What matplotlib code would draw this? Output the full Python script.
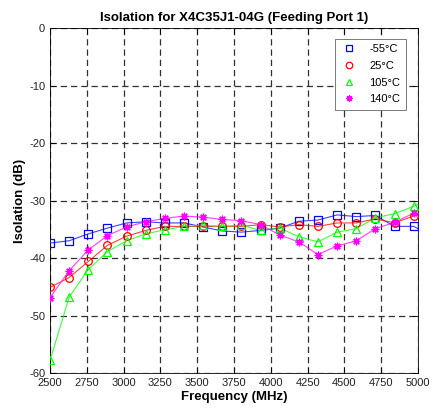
import numpy as np
import matplotlib
matplotlib.use("Agg")
import matplotlib.pyplot as plt

plt.rcParams['font.family'] = ['Liberation Sans', 'DejaVu Sans']
plt.rcParams['axes.unicode_minus'] = False

# Marker frequencies (MHz) plus line end at 5000
freq = [2500, 2630, 2760, 2890, 3020, 3150, 3280, 3410, 3540, 3670,
        3800, 3930, 4060, 4190, 4320, 4450, 4580, 4710, 4840, 4970, 5000]

iso_m55 = [-37.4, -37.0, -35.8, -34.8, -33.9, -33.7, -33.9, -33.9, -34.6, -35.3,
           -35.5, -35.2, -34.8, -33.6, -33.4, -32.5, -32.8, -32.6, -34.5, -34.5, -34.9]
iso_25 = [-45.1, -43.4, -40.6, -37.8, -36.2, -35.2, -34.5, -34.5, -34.5, -34.5,
          -34.5, -34.2, -34.6, -34.2, -34.5, -33.9, -33.9, -33.2, -33.9, -32.7, -32.4]
iso_105 = [-57.8, -46.8, -42.0, -38.9, -37.0, -35.8, -35.1, -34.5, -34.3, -34.5,
           -34.3, -35.2, -34.8, -36.3, -37.2, -35.5, -34.9, -33.0, -32.3, -31.0, -30.6]
iso_140 = [-46.9, -42.2, -38.6, -36.1, -34.6, -33.7, -33.1, -32.7, -32.9, -33.3,
           -33.5, -34.2, -36.0, -37.2, -39.4, -37.9, -37.0, -34.9, -33.8, -32.2, -32.3]

labels = ['-55°C', '25°C', '105°C', '140°C']
colors = ['#0000ff', '#ff0000', '#00ff00', '#ff00ff']
markers = ['s', 'o', '^', (8, 2, 0)]
series = [iso_m55, iso_25, iso_105, iso_140]

xticks = [2500, 2750, 3000, 3250, 3500, 3750, 4000, 4250, 4500, 4750, 5000]
yticks = [-60, -50, -40, -30, -20, -10, 0]

fig = plt.figure(figsize=(4.33, 4.20), dpi=100)
ax = fig.add_axes([0.1155, 0.1119, 0.85, 0.8214])

n_mark = len(freq) - 1
for y, c, m, lab in zip(series, colors, markers, labels):
    ax.plot(freq, y, color=c, lw=0.8, alpha=0.75, zorder=3)
    ax.plot(freq[:n_mark], y[:n_mark], linestyle='none', marker=m, markersize=5.5,
            markerfacecolor='none', markeredgecolor=c, markeredgewidth=0.9,
            label=lab, zorder=4)

ax.set_xlim(2500, 5000)
ax.set_ylim(-60, 0)
ax.set_xticks(xticks)
ax.set_yticks(yticks)
ax.tick_params(direction='in', top=True, right=True, labelsize=8, length=4, width=0.6,
               labelcolor='#222222')
ax.grid(True, color='#303030', linestyle=(0, (5, 3.2)), linewidth=0.9)
for s in ax.spines.values():
    s.set_linewidth(0.6)

ax.set_title('Isolation for X4C35J1-04G (Feeding Port 1)', fontsize=9.5, fontweight='bold', pad=5)
ax.set_xlabel('Frequency (MHz)', fontsize=9.5, fontweight='bold', labelpad=2)
ax.set_ylabel('Isolation (dB)', fontsize=9.5, fontweight='bold', labelpad=2)

leg = ax.legend(loc='upper right', fontsize=8, frameon=True, fancybox=False,
                edgecolor='#666666', framealpha=1, handletextpad=1.0, handlelength=1.6,
                borderpad=0.5, labelspacing=0.6, bbox_to_anchor=(0.982, 0.985),
                markerscale=0.85)
leg.get_frame().set_linewidth(0.6)

fig.savefig('out.png', dpi=100)
